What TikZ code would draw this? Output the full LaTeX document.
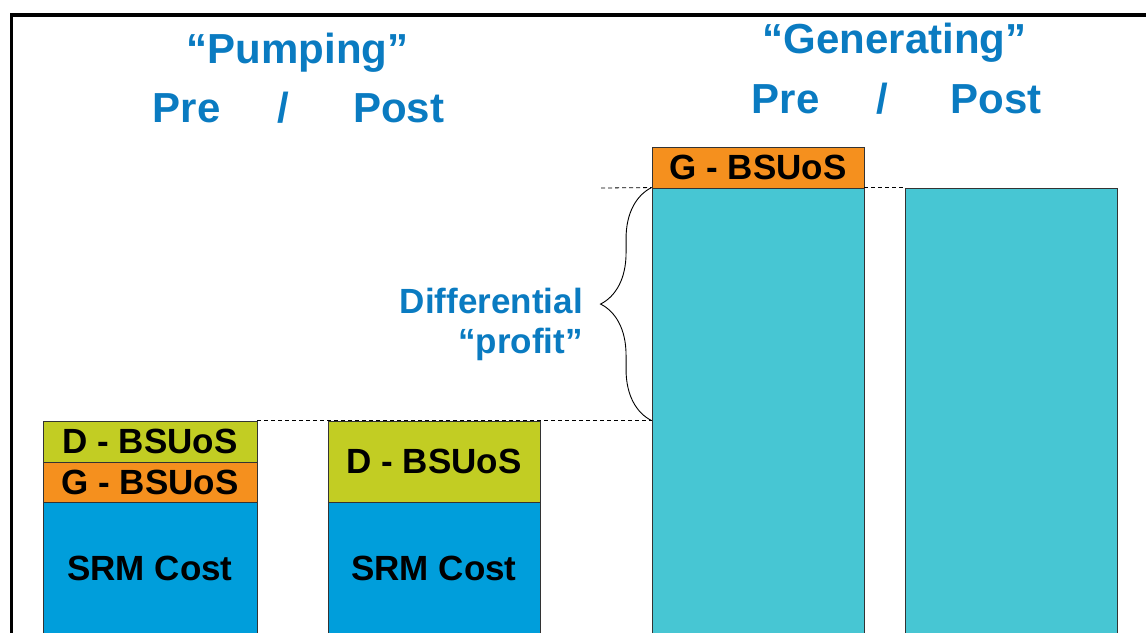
\documentclass[tikz,border=0pt]{standalone}
\usepackage{fontspec}
\setmainfont{Liberation Sans}
\usetikzlibrary{decorations.pathreplacing}
\definecolor{ttlblue}{HTML}{0A7BC1}
\definecolor{srmblue}{HTML}{009EDB}
\definecolor{gencyan}{HTML}{47C6D3}
\definecolor{gorange}{HTML}{F5901E}
\definecolor{dgreen}{HTML}{C2CD23}
\tikzset{
  title/.style={text=ttlblue, font=\bfseries\fontsize{42}{48}\selectfont, anchor=base, inner sep=0pt},
  barbox/.style={draw=black!80, line width=0.9pt, inner sep=0pt, font=\bfseries\fontsize{35}{40}\selectfont, text=black},
  guide/.style={draw=black, line width=0.8pt, dash pattern=on 4pt off 3pt},
}
\begin{document}
\begin{tikzpicture}[x=1pt, y=-1pt]
\useasboundingbox (0,0) rectangle (1146,632);
\clip (0,0) rectangle (1146,632);
% frame
\draw[line width=3.6pt] (11.3,660) -- (11.3,15) -- (1160,15);
% titles
\node[title] (tpump) at (297.5,63) {“Pumping”};
\node[title, anchor=base west] (tppre) at (152.5,122) {Pre};
\node[title] (tpsl) at (283.5,122) {/};
\node[title, anchor=base west] (tppost) at (353,122) {Post};
\node[title] (tgen) at (894.5,53) {“Generating”};
\node[title, anchor=base west] (tgpre) at (751.5,113) {Pre};
\node[title] (tgsl) at (882.5,113) {/};
\node[title, anchor=base west] (tgpost) at (950.5,113) {Post};
% pumping pre
\node[barbox, fill=dgreen, minimum width=214pt, minimum height=41pt] (ppD) at (150,441.5) {D - BSUoS};
\node[barbox, fill=gorange, minimum width=214pt, minimum height=40pt] (ppG) at (150,482) {G - BSUoS};
\node[barbox, fill=srmblue, minimum width=214pt, minimum height=132pt] (ppS) at (150,568) {SRM Cost};
% pumping post
\node[barbox, fill=dgreen, minimum width=212pt, minimum height=81pt] (poD) at (434,461.5) {D - BSUoS};
\node[barbox, fill=srmblue, minimum width=212pt, minimum height=132pt] (poS) at (434,568) {SRM Cost};
% generating pre
\node[barbox, fill=gorange, minimum width=212pt, minimum height=41pt] (gpG) at (758,167.5) {G - BSUoS};
\node[barbox, fill=gencyan, minimum width=212pt, minimum height=470pt] (gpC) at (758,423) {};
% generating post
\node[barbox, fill=gencyan, minimum width=212pt, minimum height=470pt] (goC) at (1011,423) {};
% dashed guides
\coordinate (dl) at (601,188);
\draw[guide] (ppD.north east) -- (ppD.north east -| gpC.west);
\draw[guide] (dl) -- (gpC.north west);
\draw[guide] (gpC.north east) -- (goC.north west);
% brace
\draw[line width=0.9pt, decorate, decoration={brace, amplitude=51pt, aspect=0.5}]
  (ppD.north east -| gpC.west) -- (gpC.north west);
\node[text=ttlblue, font=\bfseries\fontsize{35}{40}\selectfont, align=right, anchor=base east, inner sep=0pt] (diff) at (583,353) {Differential\\“profit”};
\end{tikzpicture}
\end{document}
